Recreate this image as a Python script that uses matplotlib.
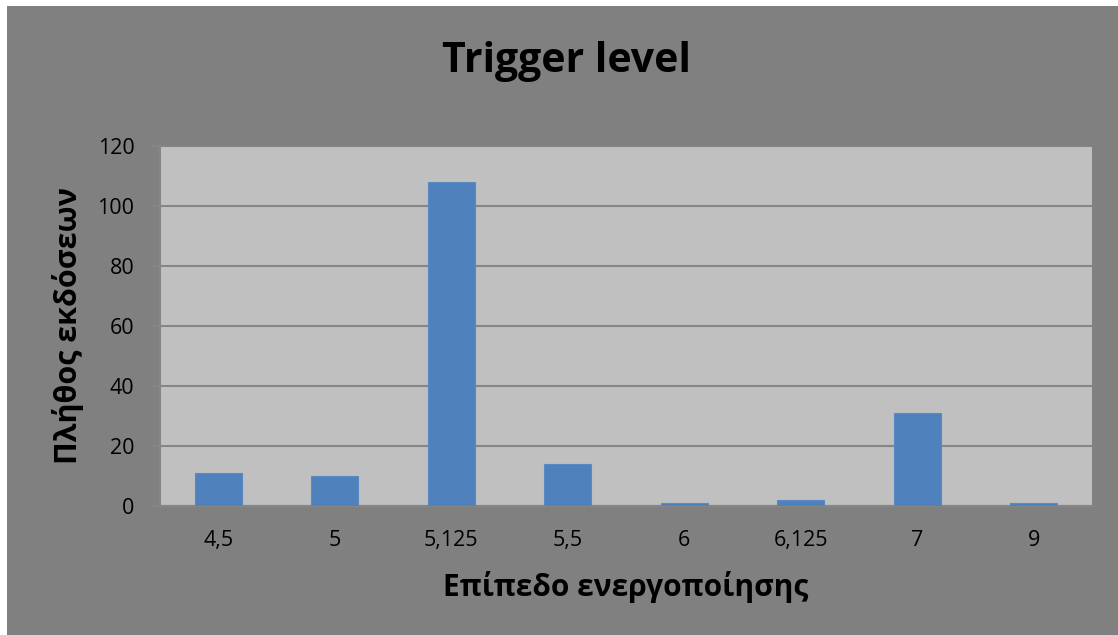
import numpy as np
import matplotlib
matplotlib.use('Agg')
import matplotlib.pyplot as plt

categories = ['4,5', '5', '5,125', '5,5', '6', '6,125', '7', '9']
counts = [11, 10, 108, 14, 1, 2, 31, 1]
yticks = [0, 20, 40, 60, 80, 100, 120]

plt.rcParams['font.family'] = ['Open Sans', 'DejaVu Sans']

W, H = 1118, 635
fig = plt.figure(figsize=(W / 100, H / 100), dpi=100)
fig.patch.set_facecolor('white')

# gray chart area with thin white margin on left/top
bg = plt.Rectangle((7 / W, 0), 1 - 7 / W, 1 - 6 / H,
                   transform=fig.transFigure, facecolor='#808080',
                   edgecolor='none', zorder=-10)
fig.patches.append(bg)

ax = fig.add_axes([160 / W, 1 - 506 / H, 932 / W, 360 / H])
ax.set_facecolor('#c0c0c0')

x = np.arange(len(categories))
ax.bar(x, counts, width=0.4, color='#4f81bd', edgecolor='#5a8ac4',
       linewidth=0.8, zorder=3)

ax.set_xlim(-0.5, len(categories) - 0.5)
ax.set_ylim(0, 120)
ax.set_yticks(yticks)
ax.set_xticks(x)
ax.set_xticklabels(categories)
ax.grid(axis='y', color='#868686', linewidth=1.5, zorder=1)

for s in ['top', 'right']:
    ax.spines[s].set_visible(False)
for s in ['left', 'bottom']:
    ax.spines[s].set_color('#868686')
    ax.spines[s].set_linewidth(1.5)

ax.tick_params(axis='y', labelsize=15.5, color='#868686', length=6.5, width=1.5, pad=12)
ax.tick_params(axis='x', labelsize=15.5, length=0, pad=17)

# axis titles and chart title
fig.text(626 / W, 1 - 587 / H, 'Επίπεδο ενεργοποίησης', ha='center', va='center',
         fontsize=21.5, fontweight='bold')
fig.text(68 / W, 1 - 325 / H, 'Πλήθος εκδόσεων', ha='center', va='center',
         rotation=90, fontsize=22, fontweight='bold')
fig.text(567 / W, 1 - 62 / H, 'Trigger level', ha='center', va='center',
         fontsize=29.5, fontweight='bold')

fig.savefig('out.png', dpi=100, facecolor=fig.get_facecolor())
